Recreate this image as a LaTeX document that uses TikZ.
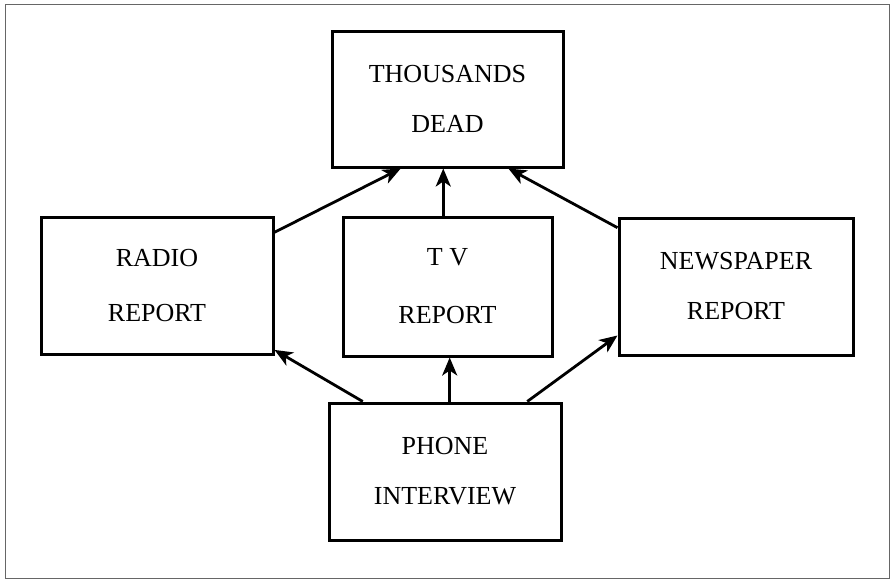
\documentclass[tikz,border=0pt]{standalone}
\usepackage{fontspec}
\setmainfont{Liberation Serif}
\usetikzlibrary{arrows.meta,calc}
\begin{document}
\begin{tikzpicture}[x=1pt,y=-1pt,
  box/.style={draw=black,line width=3pt,rectangle,align=center,
    font=\fontsize{26}{50}\selectfont,inner sep=0pt},
  link/.style={line width=2.8pt,-{Stealth[length=18pt,width=15pt,inset=5pt]}},
  frame/.style={draw=black!60,line width=1pt}]
  \useasboundingbox (0,0) rectangle (892,582);
  \draw[frame] (5,4) rectangle (889,578);

  \node[box,minimum width=231pt,minimum height=136pt] (top)   at (447.5,99)   {THOUSANDS\\DEAD};
  \node[box,minimum width=232pt,minimum height=137pt] (radio) at (157,285.5)  {RADIO\\[5pt]REPORT};
  \node[box,minimum width=209pt,minimum height=139pt] (tv)    at (447.5,286.5){T V\\[8pt]REPORT};
  \node[box,minimum width=234pt,minimum height=137pt] (news)  at (736,286.5)  {NEWSPAPER\\REPORT};
  \node[box,minimum width=232pt,minimum height=137pt] (phone) at (445,471.5)  {PHONE\\INTERVIEW};

  % reports feeding the headline
  \draw[link] ($(radio.north east)!0.12!(radio.south east)$) -- ($(top.south west)!0.3!(top.south east)$);
  \draw[link] ($(tv.north west)!0.48!(tv.north east)$) coordinate (tvup) -- (tvup |- top.south);
  \draw[link] ($(news.north west)!0.08!(news.south west)$) -- ($(top.south west)!0.76!(top.south east)$);

  % the interview feeding each report
  \draw[link] ($(phone.north west)!0.15!(phone.north east)$) -- ($(radio.south east)!0.04!(radio.north east)$);
  \draw[link] ($(phone.north west)!0.52!(phone.north east)$) coordinate (phup) -- (phup |- tv.south);
  \draw[link] ($(phone.north west)!0.85!(phone.north east)$) -- ($(news.south west)!0.15!(news.north west)$);
\end{tikzpicture}
\end{document}
